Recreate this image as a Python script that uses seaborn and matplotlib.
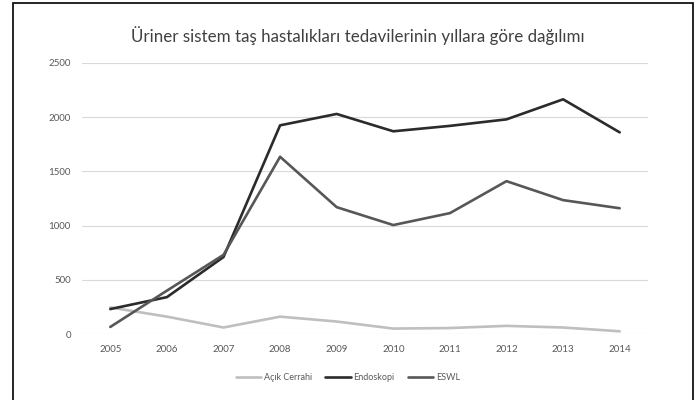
import matplotlib
matplotlib.use("Agg")
import matplotlib.pyplot as plt
import seaborn as sns
import pandas as pd
from matplotlib.patches import Rectangle

years = ["2005", "2006", "2007", "2008", "2009", "2010", "2011", "2012", "2013", "2014"]
acik_cerrahi = [245, 160, 60, 160, 115, 50, 55, 75, 60, 25]
endoskopi = [230, 340, 710, 1925, 2030, 1870, 1920, 1980, 2165, 1860]
eswl = [65, 400, 730, 1635, 1170, 1005, 1115, 1410, 1235, 1160]
series_names = ["Açık Cerrahi", "Endoskopi", "ESWL"]
colors = ["#bfbfbf", "#2b2b2b", "#575757"]

sns.set_theme(style="white")
plt.rcParams["font.family"] = ["Lato", "DejaVu Sans"]

df = pd.DataFrame({
    "Yıl": years * 3,
    "pos": list(range(len(years))) * 3,
    "Değer": acik_cerrahi + endoskopi + eswl,
    "Tedavi": [series_names[0]] * 10 + [series_names[1]] * 10 + [series_names[2]] * 10,
})

fig = plt.figure(figsize=(6.99, 4.0), dpi=100)
ax = fig.add_axes([82 / 699, 1 - 334 / 400, (648 - 82) / 699, (334 - 63) / 400])

sns.lineplot(data=df, x="pos", y="Değer", hue="Tedavi", palette=colors,
             linewidth=1.9, ax=ax, legend=True)

ax.set_xlim(-0.5, len(years) - 0.5)
ax.set_ylim(0, 2500)
ax.set_xticks(range(len(years)))
ax.set_xticklabels(years)
ax.set_yticks([0, 500, 1000, 1500, 2000, 2500])
ax.tick_params(axis="both", labelsize=7, colors="#595959", length=0, pad=8)
ax.grid(axis="y", color="#d9d9d9", linewidth=0.8)
ax.set_axisbelow(True)
for s in ax.spines.values():
    s.set_visible(False)
ax.set_xlabel("")
ax.set_ylabel("")

handles, labels = ax.get_legend_handles_labels()
ax.legend(handles, labels, loc="upper center", bbox_to_anchor=(0.47, -0.115),
          ncol=3, frameon=False, fontsize=6.5, handlelength=2.8,
          columnspacing=1.5, handletextpad=0.3, labelcolor="#595959")

fig.text(358 / 699, 1 - 36 / 400, "Üriner sistem taş hastalıkları tedavilerinin yıllara göre dağılımı",
         ha="center", va="center", fontsize=12.2, color="#404040")

fig.patches.append(Rectangle((13 / 699, -0.05), (693 - 13) / 699, 1 - 3 / 400 + 0.05,
                             transform=fig.transFigure, fill=False,
                             edgecolor="black", linewidth=1.2))

fig.savefig("out.png", dpi=100)
